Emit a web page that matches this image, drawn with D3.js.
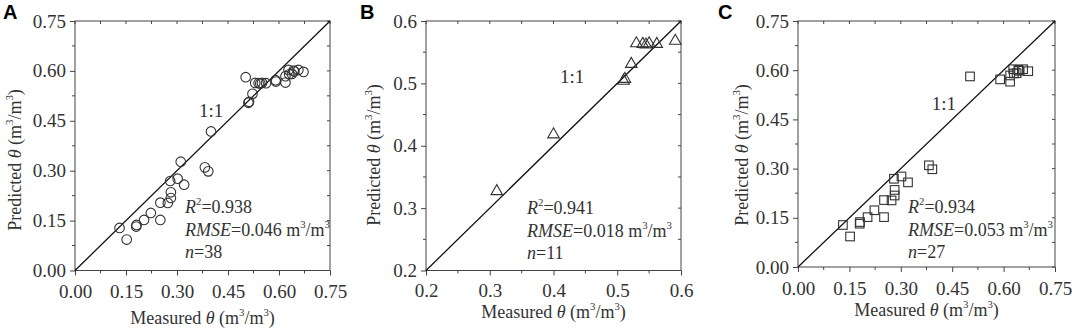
<!DOCTYPE html>
<html>
<head>
<meta charset="utf-8">
<script src="https://cdn.jsdelivr.net/npm/d3@7"></script>
<style>
  body { margin: 0; background: #fff; }
  svg { display: block; }
  text { font-family: "Liberation Serif", "Times New Roman", serif; fill: #333; }
</style>
</head>
<body>
<svg id="chart" width="1072" height="329"></svg>
<script>
// panel B: the 11 samples in the 0.3 - 0.6 range
const measuredB = [0.311, 0.400, 0.510, 0.512, 0.522, 0.530, 0.540, 0.545, 0.550, 0.562, 0.591];
const predictedB = [0.327, 0.418, 0.504, 0.507, 0.531, 0.564, 0.563, 0.562, 0.564, 0.563, 0.568];

// panel C: the other 27 samples
const measuredC = [0.131, 0.152, 0.181, 0.180, 0.203, 0.223, 0.251, 0.251, 0.273, 0.282, 0.282, 0.280, 0.302, 0.321,
                   0.382, 0.392, 0.502, 0.590, 0.619, 0.619, 0.628, 0.630, 0.638, 0.643, 0.645, 0.657, 0.672];
const predictedC = [0.128, 0.093, 0.137, 0.132, 0.152, 0.173, 0.152, 0.204, 0.203, 0.235, 0.218, 0.269, 0.276, 0.258,
                    0.310, 0.298, 0.581, 0.572, 0.565, 0.584, 0.603, 0.590, 0.591, 0.601, 0.598, 0.603, 0.597];

// panel A: all 38 samples
const measuredA = measuredB.concat(measuredC);
const predictedA = predictedB.concat(predictedC);

const panelLabels = ["A", "B", "C"];
const r2Values = ["0.938", "0.941", "0.934"];
const rmseValues = ["0.046", "0.018", "0.053"];
const nValues = ["38", "11", "27"];
const ticksWide = [0, 0.15, 0.30, 0.45, 0.60, 0.75];
const ticksNarrow = [0.2, 0.3, 0.4, 0.5, 0.6];

const svg = d3.select("#chart");

const panels = [
    {label: 0, x: measuredA, y: predictedA, marker: "circle", domain: [0, 0.75], ticks: ticksWide, fmt: ".2f",
     left: 75, right: 330, top: 21, bottom: 270.5, letterX: 3, ytX: 15, ytY: 160, xtY: 324, tickY: 298,
     oneX: 0.365, oneY: 0.462, statX: 185, statY: 213},
    {label: 1, x: measuredB, y: predictedB, marker: "triangle", domain: [0.2, 0.6], ticks: ticksNarrow, fmt: ".1f",
     left: 426, right: 681, top: 21, bottom: 270.5, letterX: 360, ytX: 374, ytY: 155, xtY: 318, tickY: 297,
     oneX: 0.41, oneY: 0.5, statX: 527, statY: 214},
    {label: 2, x: measuredC, y: predictedC, marker: "square", domain: [0, 0.75], ticks: ticksWide, fmt: ".2f",
     left: 798, right: 1055, top: 21, bottom: 267, letterX: 718, ytX: 742, ytY: 155, xtY: 316, tickY: 295,
     oneX: 0.39, oneY: 0.48, statX: 908, statY: 213}
];

// rich text: parts are [string, kind] where kind is "", "i" (italic) or "s" (superscript)
function rich(t, parts) {
    let shift = 0;
    parts.forEach(function(pt) {
        const ts = t.append("tspan").text(pt[0]);
        if (pt[1] === "i") ts.attr("font-style", "italic");
        if (pt[1] === "s") {
            ts.attr("font-size", "0.6em").attr("dy", (-0.75 - shift) + "em");
            shift = -0.45; // in parent em units
        } else if (shift !== 0) {
            ts.attr("dy", (-shift) + "em");
            shift = 0;
        }
    });
}

panels.forEach(function(p) {
    const g = svg.append("g");
    const x = d3.scaleLinear().domain(p.domain).range([p.left, p.right]);
    const y = d3.scaleLinear().domain(p.domain).range([p.bottom, p.top]);
    const step = p.ticks[1] - p.ticks[0];
    const minor = d3.range(p.domain[0] + step / 2, p.domain[1], step);

    // labelled ticks, left and bottom
    g.append("g").attr("class", "xlab").attr("transform", "translate(0," + p.bottom + ")")
        .call(d3.axisBottom(x).tickValues(p.ticks).tickFormat(d3.format(p.fmt)).tickSizeOuter(0).tickSize(5).tickPadding(6))
        .call(a => a.select(".domain").remove());
    g.append("g").attr("class", "ylab").attr("transform", "translate(" + p.left + ",0)")
        .call(d3.axisLeft(y).tickValues(p.ticks).tickFormat(d3.format(p.fmt)).tickSizeOuter(0).tickSize(5).tickPadding(4))
        .call(a => a.select(".domain").remove());

    // minor ticks and mirrored ticks on top and right
    const all = p.ticks.concat(minor);
    const tickLines = [
        ...minor.map(v => [x(v), p.bottom, x(v), p.bottom + 3]),
        ...minor.map(v => [p.left, y(v), p.left - 3, y(v)]),
        ...all.map(v => [x(v), p.top, x(v), p.top + 3]),
        ...all.map(v => [p.right, y(v), p.right - 3, y(v)])
    ];
    g.selectAll(".mt").data(tickLines).enter().append("line")
        .attr("x1", d => d[0]).attr("y1", d => d[1]).attr("x2", d => d[2]).attr("y2", d => d[3])
        .attr("stroke", "#444").attr("stroke-width", 1);

    g.selectAll(".tick line").attr("stroke", "#444").attr("stroke-width", 1);
    g.selectAll(".tick text").attr("font-size", 19).attr("fill", "#333")
        .style("font-family", "'Liberation Serif', 'Times New Roman', serif");
    g.selectAll(".xlab .tick text").attr("dy", null).attr("y", p.tickY - p.bottom);

    // frame
    g.append("rect")
        .attr("x", p.left).attr("y", p.top)
        .attr("width", p.right - p.left).attr("height", p.bottom - p.top)
        .attr("fill", "none").attr("stroke", "#444").attr("stroke-width", 1);

    // 1:1 line
    g.append("line")
        .attr("x1", x(p.domain[0])).attr("y1", y(p.domain[0]))
        .attr("x2", x(p.domain[1])).attr("y2", y(p.domain[1]))
        .attr("stroke", "#111").attr("stroke-width", 1.3);

    // markers
    const pts = p.x.map((v, i) => [v, p.y[i]]);
    const mk = g.selectAll(".pt").data(pts).enter();
    if (p.marker === "circle") {
        mk.append("circle")
            .attr("cx", d => x(d[0])).attr("cy", d => y(d[1])).attr("r", 4.8)
            .attr("fill", "none").attr("stroke", "#333").attr("stroke-width", 1.1);
    } else if (p.marker === "square") {
        mk.append("rect")
            .attr("x", d => x(d[0]) - 4.3).attr("y", d => y(d[1]) - 4.3)
            .attr("width", 8.6).attr("height", 8.6)
            .attr("fill", "none").attr("stroke", "#333").attr("stroke-width", 1.1);
    } else {
        const tri = d3.symbol().type(d3.symbolTriangle).size(58);
        mk.append("path")
            .attr("d", tri)
            .attr("transform", d => "translate(" + x(d[0]) + "," + y(d[1]) + ")")
            .attr("fill", "none").attr("stroke", "#333").attr("stroke-width", 1.1);
    }

    // 1:1 label
    g.append("text").attr("x", x(p.oneX)).attr("y", y(p.oneY))
        .attr("font-size", 19).text("1:1");

    // statistics
    rich(g.append("text").attr("x", p.statX).attr("y", p.statY).attr("font-size", 18),
        [["R", "i"], ["2", "s"], ["=" + r2Values[p.label], ""]]);
    rich(g.append("text").attr("x", p.statX).attr("y", p.statY + 23).attr("font-size", 18),
        [["RMSE", "i"], ["=" + rmseValues[p.label] + " m", ""], ["3", "s"], ["/m", ""], ["3", "s"]]);
    rich(g.append("text").attr("x", p.statX).attr("y", p.statY + 45).attr("font-size", 18),
        [["n", "i"], ["=" + nValues[p.label], ""]]);

    // axis titles
    rich(g.append("text").attr("x", (p.left + p.right) / 2).attr("y", p.xtY)
            .attr("text-anchor", "middle").attr("font-size", 18),
        [["Measured ", ""], ["θ", "i"], [" (m", ""], ["3", "s"], ["/m", ""], ["3", "s"], [")", ""]]);

    rich(g.append("text")
            .attr("transform", "translate(" + (p.ytX + 6) + "," + p.ytY + ") rotate(-90)")
            .attr("text-anchor", "middle").attr("font-size", 18),
        [["Predicted ", ""], ["θ", "i"], [" (m", ""], ["3", "s"], ["/m", ""], ["3", "s"], [")", ""]]);

    // panel letter
    svg.append("text").attr("x", p.letterX).attr("y", 19)
        .attr("font-size", 20).attr("font-weight", "bold")
        .style("font-family", "'Liberation Sans', Arial, sans-serif").style("fill", "#000")
        .text(panelLabels[p.label]);
});
</script>
</body>
</html>
